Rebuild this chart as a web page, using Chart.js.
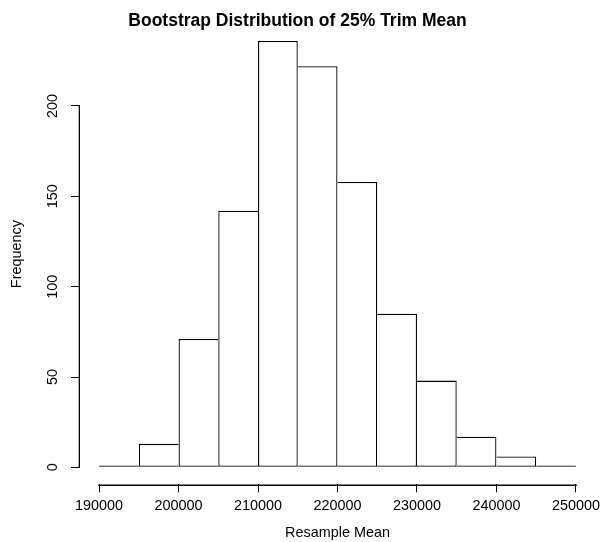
<!DOCTYPE html>
<html>
<head>
<meta charset="utf-8">
<title>Bootstrap Distribution of 25% Trim Mean</title>
<script src="https://cdn.jsdelivr.net/npm/chart.js@4.4.1/dist/chart.umd.min.js"></script>
<style>
  html, body { margin: 0; padding: 0; background: #ffffff; }
  canvas { display: block; }
</style>
</head>
<body>
<canvas id="hist" width="602" height="542"></canvas>
<script>
// Histogram bins (edges) and frequency in each bin
const binEdges = [190000, 195000, 200000, 205000, 210000, 215000, 220000,
                  225000, 230000, 235000, 240000, 245000, 250000];
const counts = [1, 13, 71, 142, 236, 222, 158, 85, 48, 17, 6, 1];

// Axis tick labels
const xTickValues = [190000, 200000, 210000, 220000, 230000, 240000, 250000];
const yTickValues = [0, 50, 100, 150, 200];

const FONT = '"Liberation Sans", Arial, Helvetica, sans-serif';
const LINE = 1.3;

// One bar per bin, placed at the bin centre on a linear x axis
const points = counts.map((c, i) => ({ x: (binEdges[i] + binEdges[i + 1]) / 2, y: c }));

// Axis ranges widened by 4% on each side of the data range
const xLo = binEdges[0], xHi = binEdges[binEdges.length - 1];
const xPad = (xHi - xLo) * 0.04;
const yTop = Math.max(...counts);
const yPad = yTop * 0.04;

// A shared edge between two bars is outlined once, by the taller bar
function barBorder(ctx) {
  const i = ctx.dataIndex;
  const h = counts[i];
  const prev = i > 0 ? counts[i - 1] : -1;
  const next = i < counts.length - 1 ? counts[i + 1] : -1;
  return {
    top: LINE,
    bottom: LINE,
    left: h >= prev ? LINE : 0,
    right: h > next ? LINE : 0
  };
}

// Axis lines that only span from the first to the last tick
const axisLines = {
  id: 'axisLines',
  afterDraw(chart) {
    const { ctx, chartArea, scales: { x, y } } = chart;
    const xa = x.getPixelForValue(xTickValues[0]);
    const xb = x.getPixelForValue(xTickValues[xTickValues.length - 1]);
    const ya = y.getPixelForValue(yTickValues[0]);
    const yb = y.getPixelForValue(yTickValues[yTickValues.length - 1]);
    ctx.save();
    ctx.strokeStyle = '#000000';
    ctx.lineCap = 'square';
    ctx.lineWidth = 1.6;
    ctx.beginPath();
    ctx.moveTo(xa, chartArea.bottom + 0.8);
    ctx.lineTo(xb, chartArea.bottom + 0.8);
    ctx.stroke();
    ctx.lineWidth = LINE;
    ctx.beginPath();
    ctx.moveTo(chartArea.left - 0.65, ya);
    ctx.lineTo(chartArea.left - 0.65, yb);
    ctx.stroke();
    ctx.restore();
  }
};

new Chart(document.getElementById('hist'), {
  type: 'bar',
  data: {
    datasets: [{
      data: points,
      backgroundColor: '#ffffff',
      borderColor: '#000000',
      borderSkipped: false,
      borderWidth: barBorder,
      barPercentage: 1,
      categoryPercentage: 1,
      inflateAmount: 0
    }]
  },
  options: {
    responsive: false,
    animation: false,
    layout: { padding: { left: 0, right: 7, top: 0, bottom: 0 } },
    plugins: {
      legend: { display: false },
      tooltip: { enabled: false },
      title: {
        display: true,
        text: 'Bootstrap Distribution of 25% Trim Mean',
        color: '#000',
        font: { family: FONT, size: 17.5, weight: 'bold', lineHeight: 1.2 },
        padding: { top: 11, bottom: -8.1 }
      }
    },
    scales: {
      x: {
        type: 'linear',
        offset: false,
        min: xLo - xPad,
        max: xHi + xPad,
        afterBuildTicks: (s) => { s.ticks = xTickValues.map(v => ({ value: v })); },
        afterFit: (s) => { s.height = 57.6; s.paddingLeft = 0; s.paddingRight = 0; },
        border: { display: false },
        grid: { offset: false, drawOnChartArea: false, drawTicks: true, tickLength: 8, color: '#000', lineWidth: 1 },
        ticks: {
          color: '#000',
          padding: 5,
          maxRotation: 0,
          autoSkip: false,
          font: { family: FONT, size: 14.4 },
          callback: (v) => String(v)
        },
        title: {
          display: true,
          text: 'Resample Mean',
          color: '#000',
          font: { family: FONT, size: 14.4 },
          padding: { top: 3.4, bottom: 0 }
        }
      },
      y: {
        type: 'linear',
        min: -yPad,
        max: yTop + yPad,
        afterBuildTicks: (s) => { s.ticks = yTickValues.map(v => ({ value: v })); },
        afterFit: (s) => { s.width = 80; s.paddingTop = 0; s.paddingBottom = 0; },
        border: { display: false },
        grid: { drawOnChartArea: false, drawTicks: true, tickLength: 9, color: '#000', lineWidth: 1 },
        ticks: {
          color: '#000',
          padding: 6,
          minRotation: 90,
          maxRotation: 90,
          crossAlign: 'center',
          autoSkip: false,
          font: { family: FONT, size: 14.4 },
          callback: (v) => String(v)
        },
        title: {
          display: true,
          text: 'Frequency',
          color: '#000',
          font: { family: FONT, size: 14.4 },
          padding: { top: 8.4, bottom: 0 }
        }
      }
    }
  },
  plugins: [axisLines]
});
</script>
</body>
</html>
